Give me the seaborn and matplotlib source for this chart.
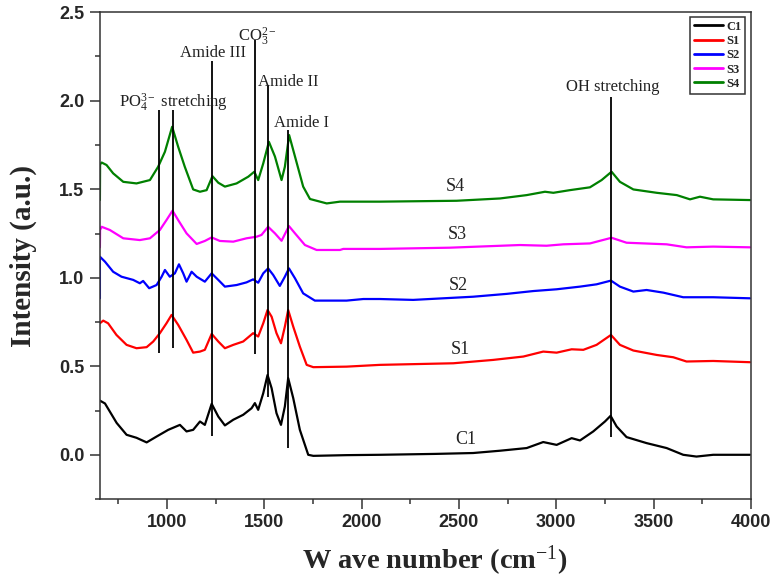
import numpy as np
import pandas as pd
import matplotlib
matplotlib.use("Agg")
import matplotlib.pyplot as plt
from matplotlib.lines import Line2D
from matplotlib.ticker import MultipleLocator
import seaborn as sns

# --- spectra (wave number in cm-1, intensity in a.u.) ---
c1_wn = [656, 682, 742, 793, 844, 896, 947, 1007, 1067, 1101,
         1135, 1170, 1195, 1230, 1264, 1298, 1341, 1392, 1435, 1452,
         1469, 1495, 1517, 1538, 1563, 1586, 1606, 1623, 1649, 1683,
         1726, 1752, 1923, 2094, 2377, 2573, 2711, 2848, 2933, 3002,
         3079, 3122, 3190, 3250, 3279, 3310, 3361, 3464, 3567, 3652,
         3720, 3806, 3995]
c1_int = [0.306, 0.29, 0.18, 0.113, 0.096, 0.07, 0.103, 0.141, 0.169, 0.132,
          0.141, 0.188, 0.169, 0.288, 0.216, 0.166, 0.198, 0.226, 0.263, 0.292,
          0.254, 0.348, 0.451, 0.376, 0.235, 0.169, 0.273, 0.433, 0.32, 0.141,
          0.0, -0.006, -0.002, 0.0, 0.005, 0.01, 0.023, 0.038, 0.072, 0.056,
          0.094, 0.081, 0.132, 0.188, 0.22, 0.16, 0.1, 0.066, 0.038, 0.0,
          -0.01, 0.0, 0.0]

s1_wn = [656, 673, 698, 741, 793, 844, 896, 930, 964, 998,
         1024, 1058, 1101, 1135, 1170, 1195, 1230, 1264, 1298, 1341,
         1392, 1443, 1469, 1495, 1517, 1538, 1563, 1586, 1606, 1623,
         1649, 1683, 1718, 1752, 1923, 2094, 2471, 2676, 2831, 2933,
         3002, 3079, 3139, 3207, 3281, 3327, 3396, 3516, 3601, 3669,
         3806, 3995]
s1_int = [0.743, 0.758, 0.743, 0.677, 0.621, 0.602, 0.608, 0.64, 0.687, 0.743,
          0.79, 0.734, 0.649, 0.577, 0.583, 0.593, 0.683, 0.64, 0.602, 0.621,
          0.64, 0.687, 0.668, 0.743, 0.818, 0.78, 0.687, 0.63, 0.724, 0.818,
          0.724, 0.611, 0.508, 0.495, 0.498, 0.508, 0.517, 0.536, 0.555, 0.583,
          0.577, 0.596, 0.593, 0.621, 0.677, 0.621, 0.589, 0.564, 0.551, 0.527,
          0.53, 0.523]

s2_wn = [656, 656, 682, 724, 767, 827, 861, 878, 909, 947,
         973, 990, 1015, 1041, 1062, 1084, 1101, 1127, 1153, 1195,
         1230, 1264, 1298, 1358, 1409, 1443, 1469, 1495, 1520, 1546,
         1580, 1606, 1627, 1658, 1700, 1760, 1923, 2009, 2094, 2265,
         2573, 2745, 2882, 3002, 3122, 3207, 3281, 3327, 3396, 3464,
         3550, 3652, 3806, 3995]
s2_int = [0.884, 1.119, 1.091, 1.034, 1.006, 0.988, 0.969, 0.982, 0.941, 0.959,
          1.006, 1.044, 1.006, 1.025, 1.076, 1.025, 0.978, 1.034, 1.006, 0.978,
          1.025, 0.988, 0.95, 0.959, 0.974, 0.991, 0.972, 1.025, 1.053, 1.016,
          0.954, 1.006, 1.053, 0.997, 0.912, 0.871, 0.871, 0.88, 0.88, 0.875,
          0.893, 0.909, 0.925, 0.935, 0.95, 0.963, 0.984, 0.95, 0.922, 0.931,
          0.916, 0.89, 0.89, 0.884]

s3_wn = [656, 657, 665, 707, 776, 861, 913, 964, 998, 1029,
         1058, 1101, 1153, 1195, 1230, 1272, 1341, 1409, 1461, 1486,
         1520, 1555, 1589, 1627, 1658, 1709, 1769, 1889, 1906, 2094,
         2454, 2813, 2950, 3036, 3173, 3284, 3361, 3567, 3669, 3806,
         3995]
s3_int = [1.172, 1.27, 1.288, 1.27, 1.223, 1.213, 1.223, 1.27, 1.326, 1.379,
          1.326, 1.251, 1.191, 1.208, 1.228, 1.208, 1.204, 1.223, 1.232, 1.242,
          1.288, 1.251, 1.209, 1.292, 1.251, 1.185, 1.157, 1.157, 1.163, 1.163,
          1.17, 1.185, 1.181, 1.189, 1.194, 1.226, 1.198, 1.189, 1.172, 1.176,
          1.172]

s4_wn = [656, 657, 665, 690, 724, 776, 844, 913, 955, 990,
         1027, 1058, 1092, 1135, 1170, 1204, 1234, 1264, 1298, 1358,
         1418, 1449, 1469, 1495, 1524, 1555, 1589, 1606, 1628, 1658,
         1700, 1735, 1821, 1889, 2094, 2488, 2711, 2848, 2942, 2985,
         3070, 3173, 3233, 3284, 3327, 3396, 3516, 3619, 3687, 3738,
         3806, 3995]
s4_int = [1.439, 1.64, 1.651, 1.637, 1.59, 1.542, 1.533, 1.552, 1.627, 1.712,
          1.853, 1.74, 1.627, 1.499, 1.486, 1.495, 1.574, 1.537, 1.515, 1.533,
          1.571, 1.599, 1.552, 1.646, 1.768, 1.685, 1.552, 1.627, 1.806, 1.685,
          1.515, 1.445, 1.42, 1.43, 1.43, 1.435, 1.448, 1.467, 1.486, 1.48,
          1.495, 1.511, 1.552, 1.599, 1.542, 1.499, 1.48, 1.467, 1.443, 1.458,
          1.443, 1.439]

samples = ["C1", "S1", "S2", "S3", "S4"]
colors = ["black", "red", "blue", "magenta", "green"]

# peak marker lines
peak_pos = [960, 1033, 1230, 1455, 1520, 1623, 3279]
peak_top = [1.947, 1.947, 2.224, 2.346, 2.088, 1.834, 2.02]
peak_bottom = [0.577, 0.602, 0.107, 0.57, 0.329, 0.038, 0.103]

# band labels
band_text = ["PO$_4^{3-}$ stretching", "Amide III", "CO$_3^{2-}$", "Amide II", "Amide I", "OH stretching"]
band_x = [753, 1236, 1365, 1622, 1692, 3291]
band_y = [1.986, 2.269, 2.36, 2.105, 1.874, 2.077]
band_ha = ["left", "center", "left", "center", "center", "center"]

# curve labels
curve_x = [2536, 2510, 2496, 2491, 2484]
curve_y = [0.085, 0.593, 0.959, 1.242, 1.518]

# --- build long-form table ---
all_wn = [c1_wn, s1_wn, s2_wn, s3_wn, s4_wn]
all_int = [c1_int, s1_int, s2_int, s3_int, s4_int]
df = pd.concat([pd.DataFrame({"wavenumber": w, "intensity": i, "sample": s})
                for w, i, s in zip(all_wn, all_int, samples)], ignore_index=True)

sns.set_style("ticks")
plt.rcParams["font.family"] = ["Liberation Serif", "DejaVu Serif"]
plt.rcParams["mathtext.fontset"] = "custom"
plt.rcParams["mathtext.rm"] = "Liberation Serif"
plt.rcParams["mathtext.it"] = "Liberation Serif:italic"
plt.rcParams["mathtext.bf"] = "Liberation Serif:bold"

fig, ax = plt.subplots(figsize=(7.79, 5.83), dpi=100)
fig.subplots_adjust(left=0.128, right=0.964, top=0.979, bottom=0.144)

sns.lineplot(data=df, x="wavenumber", y="intensity", hue="sample",
             palette=dict(zip(samples, colors)), sort=False, estimator=None,
             lw=1.6, legend=False, ax=ax)

ax.vlines(peak_pos, peak_bottom, peak_top, color="black", lw=1.3, zorder=3)

for t, x, y, ha in zip(band_text, band_x, band_y, band_ha):
    ax.text(x, y, t, ha=ha, va="center", fontsize=12, color="#222222")

for s, x, y in zip(samples, curve_x, curve_y):
    ax.text(x, y, s, ha="center", va="center", fontsize=13, color="#222222")

ax.set_xlim(655, 4000)
ax.set_ylim(-0.25, 2.5)
ax.xaxis.set_major_locator(MultipleLocator(500))
ax.xaxis.set_minor_locator(MultipleLocator(250))
ax.yaxis.set_major_locator(MultipleLocator(0.5))
ax.yaxis.set_minor_locator(MultipleLocator(0.25))
ax.tick_params(which="major", direction="out", length=7.5, width=1.1, color="#333333")
ax.tick_params(which="minor", direction="out", length=3.8, width=1.1, color="#333333")
ax.xaxis.set_major_formatter(matplotlib.ticker.FuncFormatter(lambda v, p: f"{v:.0f}"))
ax.yaxis.set_major_formatter(matplotlib.ticker.FuncFormatter(lambda v, p: f"{v:.1f}"))
for lab in ax.get_xticklabels() + ax.get_yticklabels():
    lab.set_family("Liberation Sans")
    lab.set_fontweight("bold")
    lab.set_fontsize(13)
for sp in ax.spines.values():
    sp.set_linewidth(1.1)
    sp.set_color("#333333")

ax.set_xlabel("W ave number (cm$^{-1}$)", fontsize=20.5, fontweight="bold", labelpad=9, x=0.515)
ax.set_ylabel("Intensity (a.u.)", fontsize=21, fontweight="bold", labelpad=16)

handles = [Line2D([], [], color=c, lw=2) for c in colors]
leg = ax.legend(handles, samples, loc="upper right", bbox_to_anchor=(0.991, 0.99),
                borderaxespad=0,
                prop={"family": "Liberation Serif", "weight": "bold", "size": 9},
                handlelength=2.3, handletextpad=0.25, labelspacing=0.18,
                borderpad=0.3, fancybox=False, framealpha=1, edgecolor="#333333")
leg.get_frame().set_linewidth(1.1)

plt.savefig("out.png", dpi=100)
